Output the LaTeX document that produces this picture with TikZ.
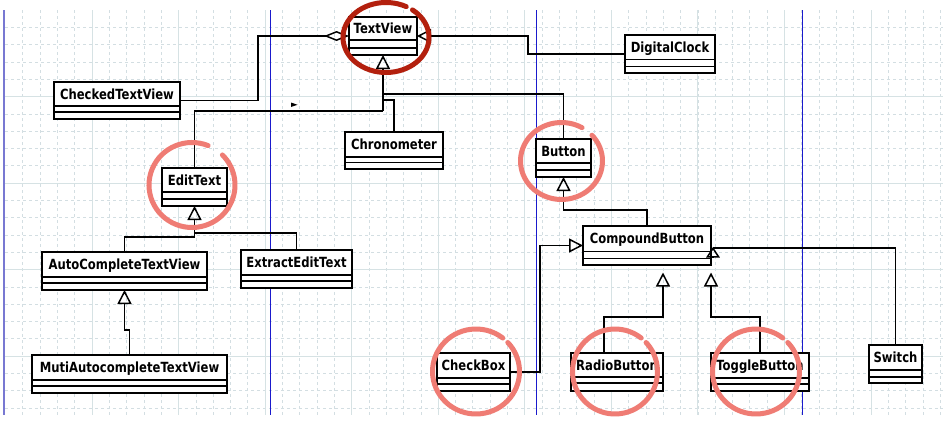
\documentclass[tikz,border=0pt]{standalone}
\usepackage{fontspec}
\newfontfamily\umlfont{DejaVu Sans}[FakeStretch=0.83]
\usetikzlibrary{arrows.meta}
\definecolor{gridc}{HTML}{D3DEE2}
\definecolor{gridm}{HTML}{D6E2E4}
\definecolor{pageblue}{HTML}{1A1ACC}
\definecolor{borderc}{HTML}{7878D2}
\definecolor{darkring}{HTML}{B3200E}
\definecolor{lightring}{HTML}{EF7C74}
\tikzset{
 classbox/.style={draw=black, line width=1.5pt, fill=white, inner sep=0pt, outer sep=0pt},
 classname/.style={inner sep=0pt, font=\umlfont\bfseries\fontsize{14}{16}\selectfont},
 classline/.style={draw=black, line width=1.5pt},
 conn/.style={draw=black, line width=1.5pt},
 gen/.style={conn, -{Triangle[open, length=14pt, width=14pt, line width=1.5pt]}},
 agg/.style={conn, -{Diamond[open, length=25pt, width=10pt, line width=1.5pt]}},
 ring/.style={line width=5pt, line cap=round},
}
\newcommand\umlclass[8]{%
  \node[classbox, anchor=north west, minimum width={#4pt-#2pt}, minimum height={#5pt-#3pt}] (#1) at (#2,#3) {};
  \node[classname, anchor=base] (#1-label) at ({(#2+#4)/2},{(#3+#6)/2+5.1}) {#8};
  \draw[classline] (#2,#6) -- (#4,#6) (#2,#7) -- (#4,#7);
}
\begin{document}
\begin{tikzpicture}[x=1pt,y=-1pt]
\useasboundingbox (0,0) rectangle (943,431);
\fill[white] (0,0) rectangle (943,431);
% grid
\foreach \i in {1,...,54} {\draw[gridc, line width=0.6pt, dash pattern=on 3pt off 3pt] ({5.4+17.31*\i},10) -- ({5.4+17.31*\i},415);}
\foreach \j in {1,...,23} {\draw[gridc, line width=0.6pt, dash pattern=on 3pt off 3pt] (5,{10+17.3*\j}) -- (943,{10+17.3*\j});}
\foreach \i in {5,10,...,50} {\draw[gridm, line width=0.7pt] ({5.4+17.31*\i},10) -- ({5.4+17.31*\i},415);}
\foreach \j in {5,10,...,20} {\draw[gridm, line width=0.7pt] (5,{10+17.3*\j}) -- (943,{10+17.3*\j});}
% page lines
\draw[borderc, line width=2pt] (4,10) -- (4,415);
\foreach \px in {270,536,802} {\draw[pageblue, line width=0.9pt] (\px,10) -- (\px,415);}
% classes
\umlclass{tv}{349}{17}{417}{55}{40}{48}{TextView}
\umlclass{ctv}{54}{82}{180}{119}{106}{112}{CheckedTextView}
\umlclass{dc}{625}{35}{715}{73}{59.5}{66.5}{DigitalClock}
\umlclass{et}{162}{168}{227}{206}{192}{199}{EditText}
\umlclass{chron}{345}{132}{443}{169}{157}{162.5}{Chronometer}
\umlclass{btn}{536}{139}{591}{177}{163}{170}{Button}
\umlclass{actv}{42}{252}{207}{290}{277}{283}{AutoCompleteTextView}
\umlclass{eet}{241}{250}{352}{288}{275}{281}{ExtractEditText}
\umlclass{muti}{32}{355}{227}{393}{380}{386}{MutiAutocompleteTextView}
\umlclass{cb}{583}{226}{711}{265}{251.5}{258.5}{CompoundButton}
\umlclass{chk}{437}{353}{510}{391}{378}{384}{CheckBox}
\umlclass{rb}{571}{353}{663}{391}{377}{383}{RadioButton}
\umlclass{tgl}{711}{353}{809}{391}{378}{384}{ToggleButton}
\umlclass{sw}{869}{345}{922}{383}{370}{377}{Switch}
% bend coordinates
\coordinate (tvhub) at (383,111);
\coordinate (tvhubB) at (383,94);
\coordinate (tvhubC) at (383,100);
\coordinate (aggbend) at (258,36);
\coordinate (dcbend) at (528,36);
\coordinate (ethubL) at (194.5,237);
\coordinate (ethubR) at (194.5,233);
\coordinate (mutibend) at (124.5,330);
\coordinate (btnbend) at (563.5,210);
\coordinate (chkbend) at (540,245.5);
\coordinate (rbbend) at (663,317);
\coordinate (rbtip) at (663,272.5);
\coordinate (tglbend) at (711,317);
\coordinate (tgltip) at (711,272.5);
\coordinate (swbend) at (713,248);
\coordinate (swbase) at (713,257.5);
\coordinate (swtip) at (713,247);
% connectors
\draw[gen] (tvhub) -- (tv.south);
\draw[conn] (et.north) |- (tvhub);
\draw[conn] (btn.north) |- (tvhubB);
\draw[conn] (chron.north) |- (tvhubC);
\draw[agg] (ctv.east) -| (aggbend) -- (tv.west);
\draw[gen] (dc.west) -| (dcbend) -- (tv.east);
\draw[gen] (ethubL) -- (et.south);
\draw[conn] (actv.north) |- (ethubL);
\draw[conn] (eet.north) |- (ethubR) -- (ethubL);
\draw[gen] (muti.north) |- (mutibend) -- (actv.south);
\draw[gen] (cb.north) |- (btnbend) -- (btn.south);
\draw[gen] (chk.east) -| (chkbend) -- (cb.west);
\draw[gen] ([xshift=-13pt]rb.north) |- (rbbend) -- (rbtip);
\draw[gen] (tgl.north) |- (tglbend) -- (tgltip);
\draw[conn] (sw.north) |- (swbend);
\draw[conn, -{Triangle[open, length=10.5pt, width=13.5pt, line width=1.5pt]}] (swbase) -- (swtip);
\fill (291,102.5) -- (297.5,104.8) -- (291,107) -- cycle;
% annotation rings
\draw[ring, darkring] ([shift={(62:43pt and 35pt)}]386,37.5) arc[start angle=62, end angle=412, x radius=43pt, y radius=35pt];
\draw[ring, lightring] ([shift={(68:43pt and 42.5pt)}]192,185) arc[start angle=68, end angle=405, x radius=43pt, y radius=42.5pt];
\draw[ring, lightring] ([shift={(60:41pt and 38.5pt)}]561.5,161) arc[start angle=60, end angle=402, x radius=41pt, y radius=38.5pt];
\draw[ring, lightring] ([shift={(52:43.5pt and 42.5pt)}]476,371.5) arc[start angle=52, end angle=403, x radius=43.5pt, y radius=42.5pt];
\draw[ring, lightring] ([shift={(52:42.5pt and 42.5pt)}]615,371.5) arc[start angle=52, end angle=403, x radius=42.5pt, y radius=42.5pt];
\draw[ring, lightring] ([shift={(52:43.5pt and 42.5pt)}]756,371.5) arc[start angle=52, end angle=403, x radius=43.5pt, y radius=42.5pt];
\end{tikzpicture}
\end{document}
